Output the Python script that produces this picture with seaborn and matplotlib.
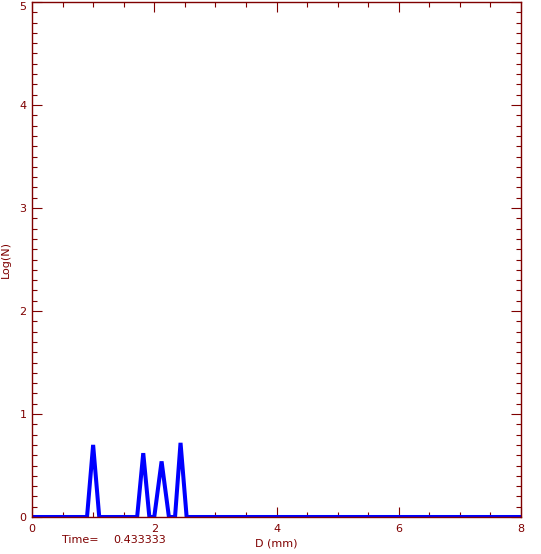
import matplotlib
matplotlib.use("Agg")
import matplotlib.pyplot as plt
import seaborn as sns
import pandas as pd
from matplotlib.ticker import MultipleLocator, FuncFormatter

# values
d_mm = [0.0, 0.90, 1.00, 1.10, 1.72, 1.82, 1.92, 2.00, 2.12, 2.24, 2.34, 2.43, 2.53, 8.0]
log_n = [0.0, 0.0, 0.70, 0.0, 0.0, 0.62, 0.0, 0.0, 0.54, 0.0, 0.0, 0.72, 0.0, 0.0]
time_value = "0.433333"

AXIS_COLOR = "#7f0000"
LINE_COLOR = "#0000ff"
Y_MAX = 5

sns.set_style("white")
plt.rcParams["font.family"] = ["DejaVu Sans"]

df = pd.DataFrame({"D": d_mm, "logN": log_n})

fig = plt.figure(figsize=(5.41, 5.54), dpi=100)
ax = fig.add_axes([32 / 541, 37 / 554, 489 / 541, 515 / 554])

sns.lineplot(data=df, x="D", y="logN", ax=ax, sort=False, estimator=None,
             color=LINE_COLOR, linewidth=2.9, solid_joinstyle="miter")

ax.set_xlim(0, 8)
ax.set_ylim(0, Y_MAX)
ax.xaxis.set_major_locator(MultipleLocator(2))
ax.xaxis.set_minor_locator(MultipleLocator(0.5))
ax.yaxis.set_major_locator(MultipleLocator(1))
ax.yaxis.set_minor_locator(MultipleLocator(0.1))
# top label is drawn separately so it stays inside the figure
ax.yaxis.set_major_formatter(FuncFormatter(lambda v, p: "" if v >= Y_MAX else f"{v:g}"))

for s in ax.spines.values():
    s.set_color(AXIS_COLOR)
    s.set_linewidth(1.0)
    s.set_visible(True)

ax.tick_params(which="both", direction="in", colors=AXIS_COLOR,
               top=True, right=True, bottom=True, left=True,
               labelsize=8, labelcolor=AXIS_COLOR, width=0.8)
ax.tick_params(which="major", length=7)
ax.tick_params(which="minor", length=3.6)
ax.tick_params(axis="x", pad=5)
ax.tick_params(axis="y", pad=4)

ax.annotate(f"{Y_MAX}", xy=(0, Y_MAX), xycoords=("axes fraction", "data"),
            xytext=(-4, 0), textcoords="offset points", ha="right", va="top",
            color=AXIS_COLOR, fontsize=8)

ax.set_xlabel("D (mm)", color=AXIS_COLOR, fontsize=8, labelpad=3)
ax.set_ylabel("Log(N)", color=AXIS_COLOR, fontsize=8, labelpad=6)

fig.text(62 / 541, 1 - 540 / 554, "Time=", color=AXIS_COLOR, fontsize=8, va="center")
fig.text(113 / 541, 1 - 540 / 554, time_value, color=AXIS_COLOR, fontsize=8, va="center")

fig.savefig("out.png", dpi=100)
plt.close(fig)
